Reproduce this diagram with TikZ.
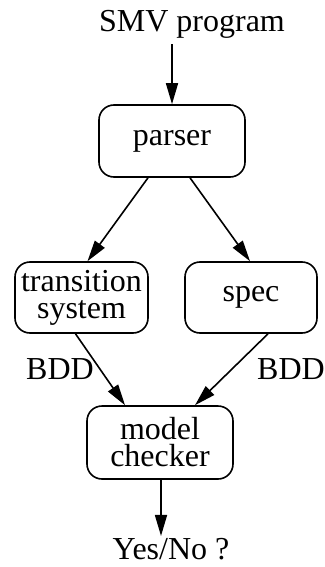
\documentclass[tikz,border=0pt]{standalone}
\usepackage{fontspec}
\setmainfont{Liberation Serif}
\usetikzlibrary{arrows.meta,calc}
\begin{document}
\begin{tikzpicture}[x=1pt,y=-1pt,
  txt/.style={font=\fontsize{32}{27}\selectfont, inner sep=0pt, align=center},
  box/.style={txt, draw, line width=1.6pt, rounded corners=15pt},
  arr/.style={line width=1.6pt, -{Triangle[length=21pt,width=12pt]}}]
  \useasboundingbox (0,0) rectangle (324,567);
  % labels outside the boxes
  \node[txt] (smv) at (192,24) {SMV program};
  \node[txt] (yes) at (171,549) {Yes/No ?};
  \node[txt] (bddl) at (60,369) {BDD};
  \node[txt] (bddr) at (291,369) {BDD};
  % processing stages
  \node[box, minimum width=146pt, minimum height=72pt] (parser) at (172,141) {parser};
  \node[box, minimum width=133pt, minimum height=71pt] (trans) at (81.5,297.5) {transition\\system};
  \node[box, minimum width=132pt, minimum height=71pt] (spec) at (251,297.5) {spec};
  \node[box, minimum width=146pt, minimum height=73pt] (check) at (160,442.5) {model\\checker};
  % data flow
  \draw[arr] (parser.north |- smv.south) ++(0,6) -- (parser.north);
  \draw[arr] ($(parser.south)+(-24,0)$) -- ($(trans.north)+(6,0)$);
  \draw[arr] ($(parser.south)+(18,0)$) -- ($(spec.north)+(-1,0)$);
  \draw[arr] ($(trans.south)+(-6,0)$) -- ($(check.north)+(-35,0)$);
  \draw[arr] ($(spec.south)+(17,0)$) -- ($(check.north)+(35,0)$);
  \draw[arr] (check.south) ++(1,0) -- ($(check.south |- yes.north)+(1,-2)$);
\end{tikzpicture}
\end{document}
